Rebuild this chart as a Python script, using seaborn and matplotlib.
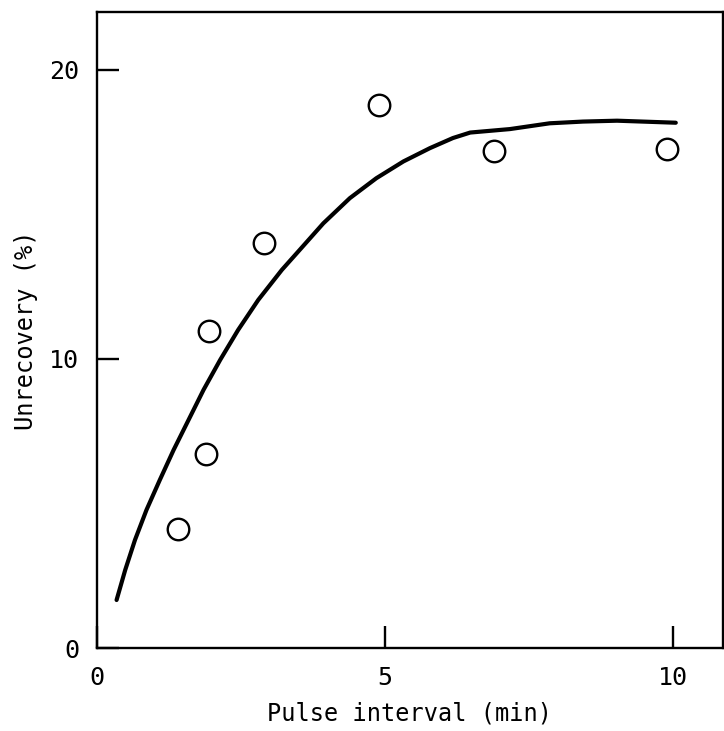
import matplotlib
matplotlib.use("Agg")
import matplotlib.pyplot as plt
import seaborn as sns
import pandas as pd

# Measured points
interval_min = [1.4, 1.9, 1.95, 2.9, 4.9, 6.9, 9.9]
unrecovery_pct = [4.1, 6.7, 10.95, 14.0, 18.8, 17.2, 17.25]

# Fitted curve
curve_x = [0.34, 0.49, 0.66, 0.86, 1.09, 1.33, 1.59, 1.85, 2.14, 2.45, 2.80, 3.21,
           3.47, 3.93, 4.39, 4.85, 5.32, 5.78, 6.18, 6.48, 7.17, 7.86, 8.44, 9.03, 10.05]
curve_y = [1.66, 2.70, 3.74, 4.78, 5.81, 6.85, 7.89, 8.93, 9.97, 11.0, 12.04, 13.08,
           13.66, 14.69, 15.56, 16.25, 16.83, 17.29, 17.64, 17.83, 17.95, 18.15, 18.21, 18.24, 18.17]

x_ticks = [0, 5, 10]
y_ticks = [0, 10, 20]

sns.set_style("ticks")
plt.rcParams['font.family'] = ['DejaVu Sans Mono', 'DejaVu Sans']
plt.rcParams['text.color'] = 'black'
plt.rcParams['axes.labelcolor'] = 'black'
plt.rcParams['axes.edgecolor'] = 'black'
plt.rcParams['xtick.color'] = 'black'
plt.rcParams['ytick.color'] = 'black'

fig = plt.figure(figsize=(7.24, 7.31), dpi=100)
ax = fig.add_axes([97/724, 1 - 648/731, (723 - 97)/724, (648 - 12)/731])

pts = pd.DataFrame({"x": interval_min, "y": unrecovery_pct})
crv = pd.DataFrame({"x": curve_x, "y": curve_y})

line = sns.lineplot(data=crv, x="x", y="y", ax=ax, color="black", linewidth=3.0,
                    estimator=None, sort=False)
for l in ax.lines:
    l.set_solid_joinstyle("round")
    l.set_solid_capstyle("round")
sns.scatterplot(data=pts, x="x", y="y", ax=ax, s=240, facecolor="white",
                edgecolor="black", linewidth=1.7, zorder=3)

ax.set_xlim(0, 10.87)
ax.set_ylim(0, 22.0)
ax.set_xticks(x_ticks)
ax.set_yticks(y_ticks)
ax.set_xticklabels([str(t) for t in x_ticks])
ax.set_yticklabels([str(t) for t in y_ticks])

for s in ax.spines.values():
    s.set_linewidth(1.7)
    s.set_color("black")
    s.set_visible(True)

ax.tick_params(axis="both", direction="in", length=16, width=1.7,
               labelsize=18, pad=13, colors="black")

ax.set_xlabel("Pulse interval (min)", fontsize=17, labelpad=8, color="black")
ax.set_ylabel("Unrecovery (%)", fontsize=17, labelpad=8, color="black")

fig.savefig("out.png", dpi=100)
